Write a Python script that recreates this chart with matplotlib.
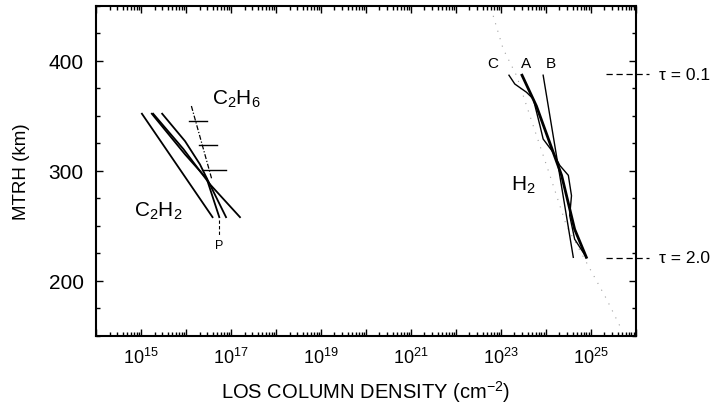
import numpy as np
import matplotlib
matplotlib.use('Agg')
import matplotlib.pyplot as plt
from matplotlib.ticker import MultipleLocator, LogLocator, FixedLocator, NullFormatter, FuncFormatter

plt.rcParams['font.family'] = ['Liberation Sans', 'DejaVu Sans']
plt.rcParams['mathtext.fontset'] = 'custom'
plt.rcParams['mathtext.rm'] = 'Liberation Sans'
plt.rcParams['mathtext.it'] = 'Liberation Sans:italic'

# log10 of column density (cm^-2) vs altitude (km)
c2h2_a_logn = [15.24, 15.98, 16.46, 16.74]
c2h2_a_alt = [352, 315, 293, 258]
c2h2_b_logn = [15.27, 15.94, 16.53, 17.20]
c2h2_b_alt = [352, 320, 288, 258]
c2h2_c_logn = [15.47, 15.98, 16.31, 16.89]
c2h2_c_alt = [352, 327, 306, 258]
c2h2_d_logn = [15.02, 16.59]
c2h2_d_alt = [352, 258]

c2h6_logn = [16.12, 16.57]
c2h6_alt = [359, 293]
c2h6_bar_alt = [345, 323.5, 301]
c2h6_bar_logn = [16.21, 16.36, 16.51]
c2h6_bar_lo = [16.07, 16.29, 16.35]
c2h6_bar_hi = [16.46, 16.70, 16.89]

h2_a_logn = [23.47, 23.79, 24.35, 24.64, 24.90]
h2_a_alt = [387, 359, 296, 247, 221.5]
h2_b_logn = [23.94, 24.61]
h2_b_alt = [387, 221.5]
h2_c_logn = [23.18, 23.31, 23.57, 23.72, 23.87, 23.94, 24.16, 24.31, 24.50, 24.57, 24.53, 24.64, 24.90]
h2_c_alt = [387, 379, 371.5, 365.5, 341, 329, 317, 305, 296, 277.5, 259.5, 238, 221.5]
h2_ext_logn = [22.83, 23.05, 23.35, 23.72, 24.09, 24.46, 24.90, 25.35, 25.64]
h2_ext_alt = [441, 411, 386.5, 341, 296, 250, 217, 183.5, 159.5]

tau_alt = [388, 221]
tau_labels = ['τ = 0.1', 'τ = 2.0']

fig = plt.figure(figsize=(7.14, 4.06), dpi=100)
ax = fig.add_axes([0.1345, 0.170, 0.756, 0.813])

p = lambda v: 10.0 ** np.array(v)

for lx, ly in [(c2h2_a_logn, c2h2_a_alt), (c2h2_b_logn, c2h2_b_alt),
               (c2h2_c_logn, c2h2_c_alt), (c2h2_d_logn, c2h2_d_alt)]:
    ax.plot(p(lx), ly, color='black', lw=1.3)

ax.plot(p(c2h6_logn), c2h6_alt, color='black', lw=0.9, ls=(0, (4, 1.5, 1, 1.5)))
for a, c, lo, hi in zip(c2h6_bar_alt, c2h6_bar_logn, c2h6_bar_lo, c2h6_bar_hi):
    ax.plot(p([lo, hi]), [a, a], color='black', lw=1.0)

ax.plot(p(h2_ext_logn), h2_ext_alt, color='#a0a0a0', lw=0.8, ls=(0, (1, 6)))
ax.plot(p(h2_c_logn), h2_c_alt, color='black', lw=1.0)
ax.plot(p(h2_b_logn), h2_b_alt, color='black', lw=1.0)
ax.plot(p(h2_a_logn), h2_a_alt, color='black', lw=2.0)

# P marker
ax.plot(p([16.74, 16.74]), [255, 241], color='black', lw=0.8, ls=(0, (3, 2)))
ax.text(p(16.74), 233, 'P', fontsize=9, ha='center', va='center')

ax.text(p(16.58), 366, r'C$_2$H$_6$', fontsize=15, ha='left', va='center')
ax.text(p(14.85), 264, r'C$_2$H$_2$', fontsize=15, ha='left', va='center')
ax.text(p(23.22), 288, r'H$_2$', fontsize=15, ha='left', va='center')
ax.text(p(22.82), 398, 'C', fontsize=11, ha='center', va='center')
ax.text(p(23.55), 398, 'A', fontsize=11, ha='center', va='center')
ax.text(p(24.12), 398, 'B', fontsize=11, ha='center', va='center')

ax.set_xscale('log')
ax.set_xlim(1e14, 1e26)
ax.set_ylim(150, 450)

ax.xaxis.set_major_locator(FixedLocator(10.0 ** np.arange(14, 27)))
ax.xaxis.set_major_formatter(FuncFormatter(
    lambda v, pos: r'$10^{%d}$' % round(np.log10(v)) if round(np.log10(v)) % 2 == 1 else ''))
ax.xaxis.set_minor_locator(LogLocator(base=10, subs=np.arange(2, 10), numticks=40))
ax.xaxis.set_minor_formatter(NullFormatter())
ax.yaxis.set_major_locator(MultipleLocator(100))
ax.yaxis.set_minor_locator(MultipleLocator(25))

ax.tick_params(which='both', direction='in', top=True, right=True, width=1.0)
ax.tick_params(which='major', length=5)
ax.tick_params(which='minor', length=3)
ax.tick_params(axis='x', labelsize=13, pad=8)
ax.tick_params(axis='y', labelsize=15, pad=9)
for s in ax.spines.values():
    s.set_linewidth(1.5)

ax.set_xlabel(r'LOS COLUMN DENSITY (cm$^{-2}$)', fontsize=14.5, labelpad=8)
ax.set_ylabel('MTRH (km)', fontsize=13.5, labelpad=13)

# optical depth markers outside the right axis
for a, lab in zip(tau_alt, tau_labels):
    ax.plot([0.945, 1.025], [a, a], transform=ax.get_yaxis_transform(), clip_on=False,
            color='black', lw=0.9, ls=(0, (5, 3)))
    ax.text(1.043, a, lab, transform=ax.get_yaxis_transform(), fontsize=12.5, ha='left', va='center')

fig.savefig('out.png', dpi=100)
